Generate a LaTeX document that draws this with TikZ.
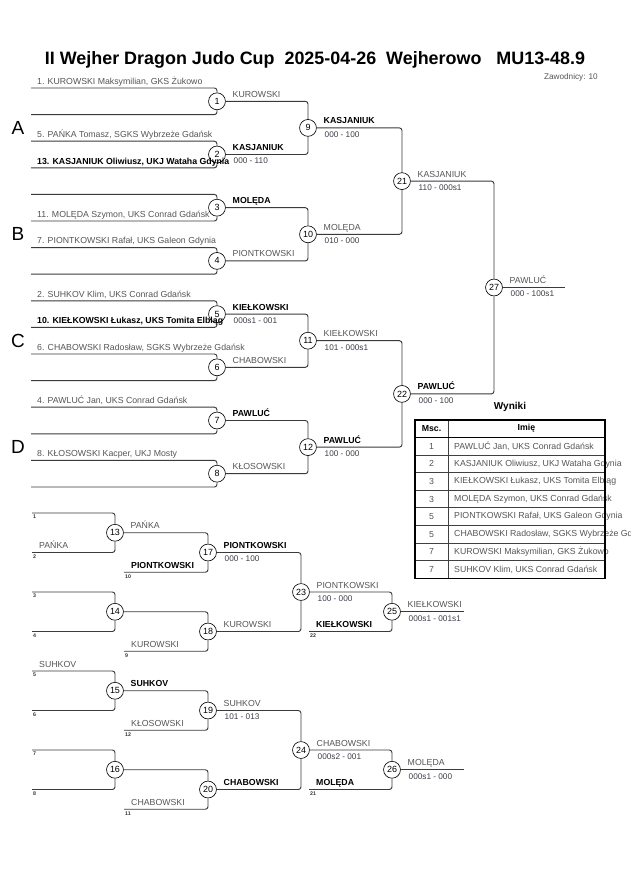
\documentclass[tikz,border=0pt]{standalone}
\usepackage{fontspec}
\setmainfont{Liberation Sans}
\usetikzlibrary{calc,positioning}
\definecolor{wiregray}{HTML}{3A3A3A}
\definecolor{textgray}{HTML}{555555}
\definecolor{scoregray}{HTML}{3C3C48}
\newcommand{\fsz}[1]{\fontsize{#1}{#1}\selectfont}
\newcommand{\fightname}[3][pname]{\node[#1] (w#2) at ($(m#2)+(15.5,-4)$) {#3};}
\newcommand{\fightscore}[2]{\node[score] (r#1) at ($(m#1)+(16.5,3.5)$) {#2};}

\begin{document}
\begin{tikzpicture}[x=0.33333mm,y=-0.33333mm,
    fight/.style={circle,draw=black,fill=white,line width=0.6pt,minimum size=16pt,inner sep=0pt,font=\fsz{8.5}},
    wire/.style={draw=wiregray,line width=0.9pt,rounded corners=2.5pt},
    pname/.style={anchor=base west,inner sep=0pt,text=textgray,font=\fsz{8.3}},
    wname/.style={pname,text=black,font=\bfseries\fsz{8.3}},
    score/.style={anchor=north west,inner sep=0pt,text=scoregray,font=\fsz{7.8}},
    tiny/.style={anchor=north west,inner sep=0pt,text=black!80,font=\bfseries\fsz{5}},
    pool/.style={inner sep=0pt,font=\fsz{18}}]
  \useasboundingbox (0,0) rectangle (630,891);

  % header
  \node[anchor=base,inner sep=0pt,font=\bfseries\fsz{17}] (title) at (315,64)
    {II Wejher Dragon Judo Cup\ \ 2025-04-26\ \ Wejherowo\ \ \ MU13-48.9};
  \node[anchor=base east,inner sep=0pt,text=textgray,font=\fsz{7.8}] (count) at (598,79) {Zawodnicy: 10};

  % main bracket
  \foreach \i in {0,...,15} \coordinate (ls\i) at (31,{88+\i*26.6});
  \foreach \i in {1,...,8} \node[fight] (m\i) at (217,{88+(2*\i-1.5)*26.6}) {\i};
  \foreach \i in {9,...,12} \node[fight] (m\i) at (308,{88+(4*(\i-9)+1.5)*26.6}) {\i};
  \node[fight] (m21) at (402,{88+3.5*26.6}) {21};
  \node[fight] (m22) at (402,{88+11.5*26.6}) {22};
  \node[fight] (m27) at (494,{88+7.5*26.6}) {27};
  \coordinate (end27) at (565,{88+7.5*26.6});

  \foreach \i [evaluate=\i as \a using int(2*\i-2), evaluate=\i as \b using int(2*\i-1)] in {1,...,8} {
    \draw[wire] (ls\a) -| (m\i);
    \draw[wire] (ls\b) -| (m\i);
  }
  \foreach \a/\b in {1/9,2/9,3/10,4/10,5/11,6/11,7/12,8/12,9/21,10/21,11/22,12/22,21/27,22/27}
    \draw[wire] (m\a) -| (m\b);
  \draw[wire] (m27) -- (end27);

  \foreach \p/\y in {A/128,B/234,C/341,D/447} \node[pool] (pool\p) at (18,\y) {\p};

  % seeds
  \foreach \j/\s/\t in {0/pname/1. KUROWSKI Maksymilian{,} GKS Żukowo,
      2/pname/5. PAŃKA Tomasz{,} SGKS Wybrzeże Gdańsk,
      3/wname/13. KASJANIUK Oliwiusz{,} UKJ Wataha Gdynia,
      5/pname/11. MOLĘDA Szymon{,} UKS Conrad Gdańsk,
      6/pname/7. PIONTKOWSKI Rafał{,} UKS Galeon Gdynia,
      8/pname/2. SUHKOV Klim{,} UKS Conrad Gdańsk,
      9/wname/10. KIEŁKOWSKI Łukasz{,} UKS Tomita Elbląg,
      10/pname/6. CHABOWSKI Radosław{,} SGKS Wybrzeże Gdańsk,
      12/pname/4. PAWLUĆ Jan{,} UKS Conrad Gdańsk,
      14/pname/8. KŁOSOWSKI Kacper{,} UKJ Mosty}
    \node[\s] (seed\j) at ($(ls\j)+(6,-3.7)$) {\t};

  \foreach \f/\s/\t in {1/pname/KUROWSKI,2/wname/KASJANIUK,3/wname/MOLĘDA,4/pname/PIONTKOWSKI,
      5/wname/KIEŁKOWSKI,6/pname/CHABOWSKI,7/wname/PAWLUĆ,8/pname/KŁOSOWSKI,
      9/wname/KASJANIUK,10/pname/MOLĘDA,11/pname/KIEŁKOWSKI,12/wname/PAWLUĆ,
      21/pname/KASJANIUK,22/wname/PAWLUĆ,27/pname/PAWLUĆ}
    {\fightname[\s]{\f}{\t}}
  \foreach \f/\t in {2/000 - 110,5/000s1 - 001,9/000 - 100,10/010 - 000,11/101 - 000s1,
      12/100 - 000,21/110 - 000s1,22/000 - 100,27/000 - 100s1}
    {\fightscore{\f}{\t}}

  % repechage
  \foreach \j in {0,2,...,14} \coordinate (rs\j) at (32,{513+\j*19.75});
  \foreach \j in {3,7,11,15} \coordinate (rs\j) at (124,{513+\j*19.75});
  \coordinate (rs6b) at (309,{513+6*19.75});
  \coordinate (rs14b) at (309,{513+14*19.75});
  \foreach \f/\x/\j in {13/115/1,14/115/5,15/115/9,16/115/13,17/208/2,18/208/6,19/208/10,20/208/14,
      23/301/4,24/301/12,25/392/5,26/392/13}
    \node[fight] (m\f) at (\x,{513+\j*19.75}) {\f};
  \coordinate (end25) at (464,{513+5*19.75});
  \coordinate (end26) at (464,{513+13*19.75});

  \foreach \a/\b in {rs0/m13,rs2/m13,rs4/m14,rs6/m14,rs8/m15,rs10/m15,rs12/m16,rs14/m16,
      rs3/m17,rs7/m18,rs11/m19,rs15/m20,rs6b/m25,rs14b/m26}
    \draw[wire] (\a) -| (\b);
  \foreach \a/\b in {13/17,14/18,15/19,16/20,17/23,18/23,19/24,20/24,23/25,24/26}
    \draw[wire] (m\a) -| (m\b);
  \draw[wire] (m25) -- (end25);
  \draw[wire] (m26) -- (end26);

  \foreach \a/\t in {rs0/1,rs2/2,rs4/3,rs6/4,rs8/5,rs10/6,rs12/7,rs14/8,
      rs3/10,rs7/9,rs11/12,rs15/11,rs6b/22,rs14b/21}
    \node[tiny] (n\a) at ($(\a)+(1,2)$) {\t};
  \foreach \a/\s/\t in {rs2/pname/PAŃKA,rs8/pname/SUHKOV,rs3/wname/PIONTKOWSKI,rs7/pname/KUROWSKI,
      rs11/pname/KŁOSOWSKI,rs15/pname/CHABOWSKI,rs6b/wname/KIEŁKOWSKI,rs14b/wname/MOLĘDA}
    \node[\s] (in\a) at ($(\a)+(7,-4)$) {\t};

  \foreach \f/\s/\t in {13/pname/PAŃKA,17/wname/PIONTKOWSKI,18/pname/KUROWSKI,23/pname/PIONTKOWSKI,
      25/pname/KIEŁKOWSKI,15/wname/SUHKOV,19/pname/SUHKOV,20/wname/CHABOWSKI,
      24/pname/CHABOWSKI,26/pname/MOLĘDA}
    {\fightname[\s]{\f}{\t}}
  \foreach \f/\t in {17/000 - 100,23/100 - 000,25/000s1 - 001s1,19/101 - 013,24/000s2 - 001,26/000s1 - 000}
    {\fightscore{\f}{\t}}

  % results
  \node[anchor=base,inner sep=0pt,font=\bfseries\fsz{9.5}] (wyniki) at (510,409) {Wyniki};
  \node[font=\bfseries\fsz{8.3},inner sep=0pt] (hmsc) at (431.5,428.5) {Msc.};
  \node[font=\bfseries\fsz{8.3},inner sep=0pt] (himie) at (526.5,428.5) {Imię};
  \foreach \k/\p/\t in {1/1/PAWLUĆ Jan{,} UKS Conrad Gdańsk,
      2/2/KASJANIUK Oliwiusz{,} UKJ Wataha Gdynia,
      3/3/KIEŁKOWSKI Łukasz{,} UKS Tomita Elbląg,
      4/3/MOLĘDA Szymon{,} UKS Conrad Gdańsk,
      5/5/PIONTKOWSKI Rafał{,} UKS Galeon Gdynia,
      6/5/CHABOWSKI Radosław{,} SGKS Wybrzeże Gdańsk,
      7/7/KUROWSKI Maksymilian{,} GKS Żukowo,
      8/7/SUHKOV Klim{,} UKS Conrad Gdańsk} {
    \node[text=textgray,font=\fsz{8.3},inner sep=0pt] (place\k) at (431.5,{437.5+(\k-0.5)*17.6}) {\p};
    \node[text=textgray,font=\fsz{8.3},inner sep=0pt,anchor=west] (entry\k) at (454,{437.5+(\k-0.5)*17.6}) {\t};
  }
  \foreach \k in {1,...,7} \draw[line width=0.8pt,draw=black!75] (415,{437.5+\k*17.6}) -- (605,{437.5+\k*17.6});
  \draw[line width=0.8pt,draw=black!75] (448,420) -- (448,578.3);
  \draw[line width=1.1pt] (415,437.5) -- (605,437.5);
  \draw[line width=1.4pt] (415,420) rectangle (605,578.3);
\end{tikzpicture}
\end{document}
